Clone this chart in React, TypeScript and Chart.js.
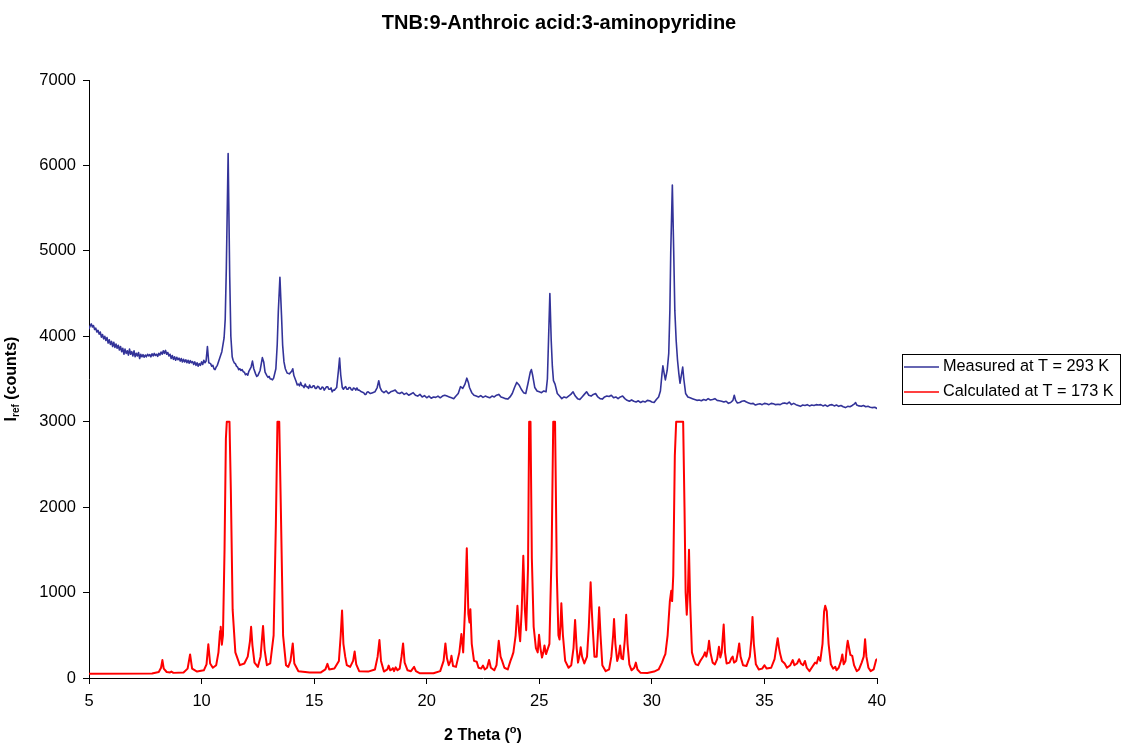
import React, { useEffect, useRef } from "react";
import { Chart, registerables } from "chart.js";

Chart.register(...registerables);

const chartTitle = "TNB:9-Anthroic acid:3-aminopyridine";
const measuredLabel = "Measured at T = 293 K";
const calculatedLabel = "Calculated at T = 173 K";
const xTicks = [5, 10, 15, 20, 25, 30, 35, 40];
const yTicks = [0, 1000, 2000, 3000, 4000, 5000, 6000, 7000];

const measured: [number, number][] = [
  [5.0,4090],[5.05,4120],[5.1,4145],[5.15,4110],[5.2,4125],[5.25,4080],[5.3,4095],[5.35,4050],[5.4,4070],[5.45,4025],
  [5.5,4050],[5.55,3990],[5.6,4020],[5.65,3970],[5.7,4000],[5.75,3950],[5.8,3985],[5.85,3920],[5.9,3960],[5.95,3905],
  [6.0,3940],[6.05,3880],[6.1,3930],[6.15,3870],[6.2,3910],[6.25,3860],[6.3,3895],[6.35,3840],[6.4,3880],[6.45,3820],
  [6.5,3860],[6.55,3790],[6.6,3850],[6.65,3800],[6.7,3830],[6.75,3780],[6.8,3850],[6.85,3790],[6.9,3820],[6.95,3770],
  [7.0,3830],[7.05,3760],[7.1,3800],[7.15,3770],[7.2,3810],[7.25,3740],[7.3,3790],[7.35,3760],[7.4,3785],[7.45,3755],
  [7.5,3780],[7.55,3760],[7.6,3790],[7.65,3770],[7.7,3785],[7.75,3760],[7.8,3795],[7.85,3770],[7.9,3800],[7.95,3775],
  [8.0,3790],[8.05,3765],[8.1,3800],[8.15,3780],[8.2,3815],[8.25,3790],[8.3,3830],[8.35,3800],[8.4,3835],[8.45,3790],
  [8.5,3810],[8.55,3770],[8.6,3790],[8.65,3740],[8.7,3775],[8.75,3730],[8.8,3760],[8.85,3720],[8.9,3755],[8.95,3725],
  [9.0,3745],[9.05,3710],[9.1,3740],[9.15,3700],[9.2,3730],[9.25,3700],[9.3,3725],[9.35,3690],[9.4,3720],[9.45,3685],
  [9.5,3715],[9.55,3690],[9.6,3705],[9.65,3670],[9.7,3700],[9.75,3660],[9.8,3690],[9.85,3650],[9.9,3680],[9.95,3660],
  [10.0,3700],[10.05,3670],[10.1,3720],[10.15,3690],[10.2,3710],[10.26,3880],[10.32,3690],[10.4,3680],[10.45,3650],[10.5,3660],
  [10.55,3620],[10.6,3610],[10.65,3640],[10.7,3660],[10.8,3740],[10.9,3820],[11.0,3980],[11.05,4200],[11.1,4800],[11.18,6140],
  [11.25,4700],[11.3,4000],[11.36,3760],[11.4,3720],[11.45,3690],[11.5,3680],
  [11.55,3650],[11.6,3640],[11.65,3610],[11.7,3620],[11.75,3600],[11.8,3610],[11.85,3585],[11.9,3580],[11.95,3550],[12.0,3560],
  [12.05,3545],[12.1,3590],[12.2,3640],[12.26,3710],[12.32,3620],[12.4,3560],[12.45,3530],[12.5,3540],[12.6,3600],[12.7,3750],
  [12.76,3700],[12.82,3580],[12.9,3540],[12.95,3520],[13.0,3530],[13.05,3500],[13.1,3500],[13.15,3490],[13.2,3510],[13.3,3620],
  [13.36,3900],[13.41,4300],[13.48,4690],[13.55,4250],[13.6,3900],[13.66,3700],[13.72,3620],[13.8,3570],
  [13.9,3560],[14.0,3590],[14.05,3620],[14.1,3540],[14.2,3470],[14.25,3430],[14.3,3440],[14.35,3420],[14.4,3460],[14.45,3425],
  [14.5,3420],[14.55,3400],[14.6,3440],[14.65,3410],[14.7,3410],[14.75,3390],[14.8,3430],[14.85,3400],[14.9,3400],[14.95,3420],
  [15.0,3420],[15.05,3390],[15.1,3390],[15.15,3415],[15.2,3410],[15.25,3385],[15.3,3380],[15.35,3405],[15.4,3400],[15.45,3370],
  [15.5,3390],[15.55,3410],[15.6,3410],[15.65,3380],[15.7,3380],[15.75,3395],[15.8,3350],[15.85,3370],[15.9,3370],[15.95,3385],
  [16.0,3400],[16.08,3600],[16.13,3745],[16.18,3550],[16.25,3400],[16.3,3380],[16.35,3400],[16.4,3410],[16.45,3380],[16.5,3380],
  [16.55,3400],[16.6,3400],[16.65,3375],[16.7,3370],[16.75,3395],[16.8,3390],[16.85,3370],[16.9,3395],[16.95,3370],[17.0,3370],
  [17.1,3350],[17.2,3340],[17.25,3320],[17.3,3320],[17.35,3345],[17.4,3350],[17.5,3330],[17.6,3340],[17.7,3350],[17.8,3400],
  [17.87,3480],[17.93,3400],[18.0,3360],[18.1,3340],[18.2,3360],[18.3,3330],[18.4,3350],[18.5,3360],[18.6,3370],[18.7,3340],
  [18.8,3330],[18.9,3345],[19.0,3320],[19.1,3335],[19.2,3310],[19.3,3325],[19.4,3340],[19.5,3310],[19.6,3300],[19.7,3320],
  [19.8,3290],[19.9,3305],[20.0,3280],[20.1,3300],[20.2,3275],[20.3,3290],[20.4,3285],[20.5,3300],[20.6,3280],[20.7,3300],
  [20.8,3310],[20.9,3300],[21.0,3290],[21.1,3280],[21.2,3270],[21.3,3300],[21.4,3330],[21.5,3410],[21.6,3390],[21.7,3440],
  [21.78,3510],[21.85,3460],[21.9,3400],[22.0,3340],[22.1,3310],[22.2,3300],[22.3,3290],[22.4,3305],[22.5,3285],[22.6,3300],
  [22.7,3290],[22.8,3280],[22.9,3300],[23.0,3290],[23.1,3310],[23.2,3320],[23.3,3290],[23.4,3280],[23.5,3270],[23.6,3265],
  [23.7,3290],[23.8,3330],[23.9,3400],[24.0,3460],[24.1,3430],[24.2,3380],[24.3,3340],[24.4,3330],[24.5,3450],[24.6,3580],
  [24.65,3610],[24.7,3550],[24.8,3400],[24.9,3360],[25.0,3350],[25.1,3340],[25.2,3360],[25.3,3350],[25.36,3500],[25.41,3950],
  [25.47,4500],[25.53,3950],[25.58,3650],[25.63,3480],[25.7,3440],[25.8,3330],[25.9,3300],[26.0,3270],
  [26.1,3290],[26.2,3280],[26.3,3300],[26.4,3320],[26.5,3350],[26.6,3300],[26.7,3270],[26.8,3260],[26.9,3290],[27.0,3320],
  [27.1,3350],[27.2,3310],[27.3,3300],[27.4,3320],[27.5,3330],[27.6,3290],[27.7,3270],[27.8,3265],[27.9,3290],[28.0,3300],
  [28.1,3295],[28.2,3310],[28.3,3280],[28.4,3290],[28.5,3270],[28.6,3290],[28.7,3300],[28.8,3270],[28.9,3250],[29.0,3240],
  [29.1,3255],[29.2,3240],[29.3,3230],[29.4,3245],[29.5,3225],[29.6,3240],[29.7,3230],[29.8,3250],[29.9,3245],[30.0,3230],
  [30.1,3225],[30.2,3260],[30.3,3290],[30.38,3360],[30.45,3560],[30.49,3655],[30.55,3560],[30.6,3490],[30.68,3600],[30.75,3800],
  [30.8,4300],[30.84,5000],[30.91,5770],[30.97,5000],[31.02,4300],[31.08,3950],[31.14,3720],[31.2,3560],
  [31.25,3450],[31.32,3560],[31.37,3640],[31.42,3500],[31.5,3330],[31.6,3290],[31.7,3280],[31.8,3270],[31.9,3260],[32.0,3250],
  [32.1,3255],[32.2,3245],[32.3,3260],[32.4,3250],[32.5,3270],[32.6,3255],[32.7,3260],[32.8,3270],[32.9,3250],[33.0,3245],
  [33.1,3240],[33.2,3230],[33.3,3240],[33.4,3215],[33.5,3225],[33.6,3250],[33.66,3310],[33.72,3250],[33.8,3220],[33.9,3225],
  [34.0,3240],[34.1,3245],[34.2,3230],[34.3,3220],[34.4,3210],[34.5,3215],[34.6,3195],[34.7,3205],[34.8,3210],[34.9,3200],
  [35.0,3215],[35.1,3210],[35.2,3200],[35.3,3215],[35.4,3210],[35.5,3200],[35.6,3205],[35.7,3200],[35.8,3215],[35.9,3220],
  [36.0,3210],[36.1,3230],[36.2,3200],[36.3,3215],[36.4,3200],[36.5,3190],[36.6,3180],[36.7,3195],[36.8,3190],[36.9,3200],
  [37.0,3185],[37.1,3195],[37.2,3190],[37.3,3200],[37.4,3195],[37.5,3200],[37.6,3185],[37.7,3195],[37.8,3180],[37.9,3195],
  [38.0,3200],[38.1,3185],[38.2,3195],[38.3,3180],[38.4,3190],[38.5,3175],[38.6,3165],[38.7,3180],[38.8,3175],[38.9,3190],
  [39.0,3210],[39.05,3225],[39.1,3195],[39.2,3185],[39.3,3180],[39.4,3190],[39.5,3175],[39.6,3180],[39.7,3170],[39.8,3165],
  [39.9,3170],[40.0,3155],
];

const calculated: [number, number][] = [
  [5.0,50],[7.8,52],[8.1,70],[8.2,120],[8.26,210],[8.32,110],[8.45,70],[8.6,65],[8.66,75],[8.75,60],
  [9.2,65],[9.38,110],[9.49,275],[9.58,110],[9.8,75],[10.1,90],[10.22,160],[10.3,395],[10.38,170],[10.5,120],
  [10.65,150],[10.75,300],[10.82,550],[10.85,600],[10.9,390],[10.95,500],[11.02,1500],[11.08,2800],[11.12,3000],[11.24,3000],
  [11.3,2200],[11.38,800],[11.5,300],[11.7,150],[11.9,170],[12.05,250],[12.15,430],[12.2,600],[12.26,380],[12.35,180],
  [12.5,130],[12.62,250],[12.73,610],[12.8,330],[12.9,150],[13.05,170],[13.2,500],[13.3,1800],[13.37,3000],[13.45,3000],
  [13.52,2000],[13.62,500],[13.75,150],[13.85,130],[13.95,200],[14.05,405],[14.12,170],[14.3,80],[14.8,65],[15.3,65],
  [15.5,100],[15.59,165],[15.67,100],[15.9,110],[16.1,200],[16.18,500],[16.24,790],[16.3,400],[16.38,250],[16.45,150],
  [16.6,130],[16.73,200],[16.8,310],[16.87,160],[17.0,80],[17.4,75],[17.7,100],[17.82,250],[17.9,445],[17.97,200],
  [18.1,75],[18.25,100],[18.31,145],[18.38,90],[18.45,100],[18.5,115],[18.55,80],[18.62,125],[18.7,90],[18.8,110],
  [18.88,250],[18.95,405],[19.02,180],[19.15,90],[19.3,80],[19.44,130],[19.52,80],[19.7,55],[20.3,55],[20.6,80],
  [20.75,200],[20.83,405],[20.9,230],[20.98,150],[21.06,200],[21.1,260],[21.17,140],[21.3,130],[21.45,300],[21.54,515],
  [21.62,300],[21.7,800],[21.78,1518],[21.85,750],[21.9,650],[21.94,805],[22.0,400],[22.1,200],[22.22,190],[22.3,120],
  [22.42,110],[22.5,145],[22.58,100],[22.68,120],[22.77,210],[22.85,120],[23.0,90],[23.1,150],[23.2,435],[23.28,250],
  [23.35,200],[23.45,120],[23.6,100],[23.72,200],[23.79,250],[23.85,300],[23.95,500],[24.03,845],[24.1,550],[24.15,430],
  [24.22,800],[24.29,1430],[24.36,800],[24.42,560],[24.5,1300],[24.55,3000],[24.61,3000],[24.67,1400],[24.75,600],[24.85,350],
  [24.93,300],[24.99,505],[25.05,350],[25.12,240],[25.18,300],[25.23,380],[25.3,280],[25.45,400],[25.55,1500],[25.62,3000],
  [25.7,3000],[25.78,1200],[25.85,500],[25.9,450],[25.94,600],[25.98,875],[26.05,500],[26.15,200],[26.3,120],[26.42,150],
  [26.52,350],[26.59,680],[26.66,350],[26.72,180],[26.8,280],[26.84,360],[26.9,250],[27.0,170],[27.12,250],[27.2,600],
  [27.28,1120],[27.33,800],[27.37,600],[27.45,250],[27.55,250],[27.62,600],[27.66,827],[27.72,500],[27.8,150],[27.95,80],
  [28.1,100],[28.2,250],[28.28,500],[28.32,690],[28.38,400],[28.46,200],[28.52,250],[28.59,380],[28.65,230],[28.72,220],
  [28.8,450],[28.86,740],[28.92,400],[29.0,160],[29.1,90],[29.22,120],[29.29,180],[29.36,100],[29.5,60],[29.8,58],
  [30.1,75],[30.3,100],[30.45,180],[30.55,250],[30.6,280],[30.7,500],[30.8,900],[30.86,1020],[30.9,900],[30.95,1200],
  [31.02,2600],[31.08,3000],[31.39,3000],[31.45,2000],[31.5,1000],[31.55,740],[31.6,1000],[31.65,1500],[31.7,900],[31.78,300],
  [31.88,200],[31.95,160],[32.05,150],[32.15,200],[32.2,220],[32.3,260],[32.36,300],[32.42,250],[32.5,350],[32.54,435],
  [32.6,300],[32.7,180],[32.8,160],[32.9,220],[32.98,365],[33.04,240],[33.1,300],[33.19,625],[33.25,300],[33.32,170],
  [33.45,180],[33.53,230],[33.59,250],[33.65,180],[33.75,200],[33.82,300],[33.88,405],[33.94,250],[34.05,150],[34.2,140],
  [34.35,250],[34.42,450],[34.47,715],[34.53,400],[34.62,160],[34.75,100],[34.9,110],[35.0,150],[35.1,110],[35.3,120],
  [35.45,220],[35.55,400],[35.59,465],[35.65,350],[35.7,280],[35.78,200],[35.9,170],[36.0,120],[36.15,150],[36.26,210],
  [36.33,150],[36.45,170],[36.54,220],[36.62,170],[36.72,150],[36.8,200],[36.88,120],[37.0,80],[37.15,140],[37.25,180],
  [37.32,170],[37.4,245],[37.48,200],[37.58,400],[37.65,780],[37.7,845],[37.77,780],[37.85,400],[37.95,160],[38.05,110],
  [38.15,130],[38.2,90],[38.3,120],[38.4,200],[38.46,275],[38.52,160],[38.6,200],[38.66,360],[38.7,435],[38.76,350],
  [38.82,270],[38.9,260],[38.98,150],[39.1,80],[39.2,100],[39.32,180],[39.41,250],[39.47,455],[39.53,250],[39.62,120],
  [39.72,80],[39.85,100],[39.92,170],[39.96,210],[40.0,220],
];

const FONT = "'Liberation Sans', Arial, Helvetica, sans-serif";
const BLUE = "#333399";
const RED = "#FF0000";

const decorPlugin = {
  id: "decor",
  afterDraw(chart: any) {
    const ctx = chart.ctx as CanvasRenderingContext2D;
    const area = chart.chartArea;
    ctx.save();
    ctx.fillStyle = "#000";
    // Title
    ctx.font = `bold 20px ${FONT}`;
    ctx.textAlign = "center";
    ctx.textBaseline = "alphabetic";
    ctx.fillText(chartTitle, 559, 29);

    // X axis title: 2 Theta (°) with superscript o
    const xMain = "2 Theta (";
    ctx.font = `bold 16px ${FONT}`;
    const w1 = ctx.measureText(xMain).width;
    ctx.font = `bold 11px ${FONT}`;
    const w2 = ctx.measureText("o").width;
    ctx.font = `bold 16px ${FONT}`;
    const w3 = ctx.measureText(")").width;
    const xCenter = (area.left + area.right) / 2;
    let sx = xCenter - (w1 + w2 + w3) / 2;
    const by = 740;
    ctx.textAlign = "left";
    ctx.fillText(xMain, sx, by);
    sx += w1;
    ctx.font = `bold 11px ${FONT}`;
    ctx.fillText("o", sx, by - 7);
    sx += w2;
    ctx.font = `bold 16px ${FONT}`;
    ctx.fillText(")", sx, by);

    // Y axis title: I_ref (counts)
    ctx.save();
    ctx.translate(16, 379);
    ctx.rotate(-Math.PI / 2);
    ctx.font = `bold 16px ${FONT}`;
    const a1 = ctx.measureText("I").width;
    ctx.font = `bold 10px ${FONT}`;
    const a2 = ctx.measureText("ref").width;
    ctx.font = `bold 16px ${FONT}`;
    const a3 = ctx.measureText(" (counts)").width;
    let tx = -(a1 + a2 + a3) / 2;
    ctx.textAlign = "left";
    ctx.fillText("I", tx, 0);
    tx += a1;
    ctx.font = `bold 10px ${FONT}`;
    ctx.fillText("ref", tx, 3);
    tx += a2;
    ctx.font = `bold 16px ${FONT}`;
    ctx.fillText(" (counts)", tx, 0);
    ctx.restore();

    // Legend box
    const lx = 902.5, ly = 354.5, lw = 218, lh = 50;
    ctx.strokeStyle = "#000";
    ctx.lineWidth = 1;
    ctx.strokeRect(lx, ly, lw, lh);
    const rows = [
      { label: measuredLabel, color: BLUE, y: 367 },
      { label: calculatedLabel, color: RED, y: 392 },
    ];
    ctx.font = `16.3px ${FONT}`;
    ctx.textBaseline = "middle";
    for (const r of rows) {
      ctx.strokeStyle = r.color;
      ctx.lineWidth = 1.5;
      ctx.beginPath();
      ctx.moveTo(904, r.y);
      ctx.lineTo(939, r.y);
      ctx.stroke();
      ctx.fillStyle = "#000";
      ctx.fillText(r.label, 943, r.y);
    }
    ctx.restore();
  },
};

export default function App() {
  const canvasRef = useRef<HTMLCanvasElement | null>(null);

  useEffect(() => {
    if (!canvasRef.current) return;
    const chart = new Chart(canvasRef.current, {
      type: "line",
      data: {
        datasets: [
          {
            label: measuredLabel,
            data: measured.map(([x, y]) => ({ x, y })),
            borderColor: BLUE,
            borderWidth: 1.6,
            borderJoinStyle: "round",
            borderCapStyle: "round",
            pointRadius: 0,
            tension: 0,
            fill: false,
          },
          {
            label: calculatedLabel,
            data: calculated.map(([x, y]) => ({ x, y })),
            borderColor: RED,
            borderWidth: 2,
            borderJoinStyle: "round",
            borderCapStyle: "round",
            pointRadius: 0,
            tension: 0,
            fill: false,
          },
        ],
      },
      options: {
        animation: false,
        responsive: false,
        maintainAspectRatio: false,
        events: [],
        layout: { padding: { left: 0, top: 80, right: 247, bottom: 0 } },
        plugins: {
          legend: { display: false },
          title: { display: false },
          tooltip: { enabled: false },
        },
        scales: {
          x: {
            type: "linear",
            min: xTicks[0],
            max: xTicks[xTicks.length - 1],
            afterBuildTicks: (scale: any) => {
              scale.ticks = xTicks.map((v) => ({ value: v }));
            },
            afterFit: (scale: any) => {
              scale.height = 68;
            },
            ticks: {
              color: "#000",
              font: { family: FONT, size: 16.5 },
              padding: 8,
              maxRotation: 0,
              autoSkip: false,
              callback: (v: any) => String(v),
            },
            grid: {
              drawOnChartArea: false,
              drawTicks: true,
              tickLength: 6,
              color: "#000",
            },
            border: { display: true, color: "#000", width: 1 },
          },
          y: {
            type: "linear",
            min: yTicks[0],
            max: yTicks[yTicks.length - 1],
            afterBuildTicks: (scale: any) => {
              scale.ticks = yTicks.map((v) => ({ value: v }));
            },
            afterFit: (scale: any) => {
              scale.width = 89;
            },
            ticks: {
              color: "#000",
              font: { family: FONT, size: 16.5 },
              padding: 7,
              autoSkip: false,
              callback: (v: any) => String(v),
            },
            grid: {
              drawOnChartArea: false,
              drawTicks: true,
              tickLength: 6,
              color: "#000",
            },
            border: { display: true, color: "#000", width: 1 },
          },
        },
      },
      plugins: [decorPlugin],
    });
    return () => chart.destroy();
  }, []);

  return (
    <div style={{ position: "absolute", left: 0, top: 0, width: 1124, height: 746, background: "#fff" }}>
      <canvas ref={canvasRef} width={1124} height={746} style={{ display: "block" }} />
    </div>
  );
}
